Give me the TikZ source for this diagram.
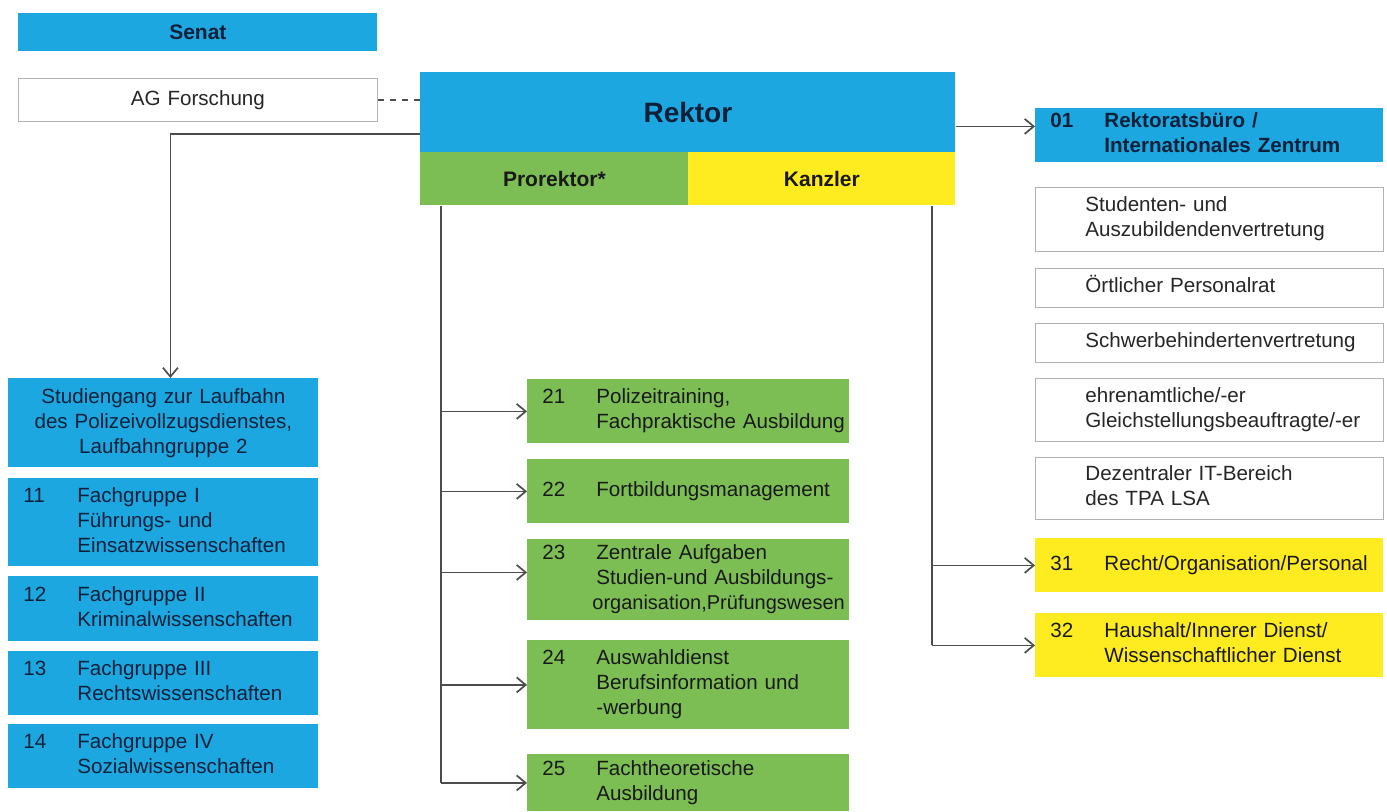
\documentclass[tikz,border=0pt]{standalone}
\usepackage{fontspec}
\setmainfont{Liberation Sans}
\usetikzlibrary{calc,arrows.meta}
\setlength{\parindent}{0pt}

\definecolor{hsblue}{RGB}{28,167,224}
\definecolor{hsgreen}{RGB}{125,190,84}
\definecolor{hsyellow}{RGB}{255,236,32}
\definecolor{hsnavy}{RGB}{12,32,58}

% number column, then the lines of the entry
\newcommand{\nr}[2]{\makebox[27pt][l]{#1}\begin{tabular}[t]{@{}l@{}}#2\end{tabular}}
\newcommand{\wt}[1]{\hspace*{17.5pt}\begin{tabular}[t]{@{}l@{}}#1\end{tabular}}

\begin{document}
\begin{tikzpicture}[
x=0.5pt, y=-0.5pt,
font=\fontsize{10.3}{12.5}\selectfont,
box/.style={rectangle, anchor=north west, inner xsep=7.5pt, inner ysep=0pt, align=left},
lblue/.style={box, fill=hsblue, text=hsnavy, minimum width=155pt, text width=140pt},
gbox/.style={box, fill=hsgreen, text=black!90, minimum width=161pt, text width=146pt},
rwhite/.style={box, draw=black!30, fill=white, text=black!85, minimum width=174pt, text width=159pt},
ryellow/.style={box, fill=hsyellow, text=black!90, minimum width=174pt, text width=159pt},
head/.style={box, align=center, font=\fontsize{10.5}{12.5}\selectfont\bfseries},
conn/.style={draw=black!70, line width=0.85pt},
arr/.style={conn, -{Straight Barb[length=4.5pt, width=7.5pt]}},
]
\useasboundingbox (0,0) rectangle (1387,811);

% top
\node[head, fill=hsblue, text=hsnavy, minimum width=179.5pt, text width=164.5pt, minimum height=19pt] (senat) at (18,13) {Senat};
\node[box, draw=black!30, text=black!85, align=center, minimum width=179.5pt, text width=164.5pt, minimum height=21.5pt] (ag) at (18,78) {AG Forschung};

\node[head, fill=hsblue, text=hsnavy, minimum width=267.5pt, text width=252.5pt, minimum height=40pt,
  font=\fontsize{14}{16}\selectfont\bfseries] (rektor) at (420,72) {Rektor};
\node[head, fill=hsgreen, text=black!90, minimum width=134pt, text width=119pt, minimum height=26.5pt] (pro) at (420,152) {Prorektor*};
\node[head, fill=hsyellow, text=black!90, minimum width=133.5pt, text width=118.5pt, minimum height=26.5pt] (kanz) at (688,152) {Kanzler};

% left column
\node[lblue, align=center, minimum height=44.5pt] (stud) at (8,378) {Studiengang zur Laufbahn\\des Polizeivollzugsdienstes,\\Laufbahngruppe 2};
\node[lblue, minimum height=44pt] (f11) at (8,478) {\nr{11}{Fachgruppe I\\Führungs- und\\Einsatzwissenschaften}};
\node[lblue, minimum height=32.5pt] (f12) at (8,576) {\nr{12}{Fachgruppe II\\Kriminalwissenschaften}};
\node[lblue, minimum height=32pt] (f13) at (8,651) {\nr{13}{Fachgruppe III\\Rechtswissenschaften}};
\node[lblue, minimum height=32pt] (f14) at (8,724) {\nr{14}{Fachgruppe IV\\Sozialwissenschaften}};

% middle column
\node[gbox, minimum height=32pt] (g21) at (527,379) {\nr{21}{Polizeitraining,\\Fachpraktische Ausbildung}};
\node[gbox, minimum height=32pt] (g22) at (527,459) {\nr{22}{Fortbildungsmanagement}};
\node[gbox, minimum height=40.5pt] (g23) at (527,539) {\nr{23}{Zentrale Aufgaben\\Studien-und Ausbildungs-\\\hspace*{-2pt}{\fontsize{10}{12.5}\selectfont organisation,Prüfungswesen}}};
\node[gbox, minimum height=44.5pt] (g24) at (527,640) {\nr{24}{Auswahldienst\\Berufsinformation und\\-werbung}};
\node[gbox, minimum height=28.5pt] (g25) at (527,754) {\nr{25}{Fachtheoretische\\Ausbildung}};

% right column
\node[box, fill=hsblue, text=hsnavy, minimum width=174pt, text width=159pt, minimum height=27pt,
  font=\fontsize{10.3}{12.5}\selectfont\bfseries] (b01) at (1035,108) {\nr{01}{Rektoratsbüro /\\Internationales Zentrum}};
\node[rwhite, minimum height=32pt] (w1) at (1035,187) {\wt{Studenten- und\\Auszubildendenvertretung}};
\node[rwhite, minimum height=19.5pt] (w2) at (1035,268) {\wt{Örtlicher Personalrat}};
\node[rwhite, minimum height=19.5pt] (w3) at (1035,323) {\wt{Schwerbehindertenvertretung}};
\node[rwhite, minimum height=31.5pt] (w4) at (1035,378) {\wt{ehrenamtliche/-er\\Gleichstellungsbeauftragte/-er}};
\node[rwhite, minimum height=31pt] (w5) at (1035,457) {\wt{Dezentraler IT-Bereich\\des TPA LSA}};
\node[ryellow, minimum height=27pt] (y31) at (1035,538) {\nr{31}{Recht/Organisation/Personal}};
\node[ryellow, minimum height=32pt] (y32) at (1035,613) {\nr{32}{Haushalt/Innerer Dienst/\\Wissenschaftlicher Dienst}};

% connectors
\draw[conn, dashed] (ag.east) -- (ag.east -| rektor.west);
\draw[arr] ([yshift=9.5pt]rektor.south west) -| ([xshift=3.5pt]stud.north);
\draw[arr] ([yshift=-7pt]rektor.east) -- ([yshift=-7pt]rektor.east -| b01.west);

\coordinate (pv) at ([xshift=10.5pt]pro.south west);
\draw[conn] (pv) -- (pv |- g25.west);
\foreach \n in {g21,g22,g24,g25}
  \draw[arr] (pv |- \n.west) -- (\n.west);
\draw[arr] ($(pv |- g23.west)+(0,-7.5)$) -- ($(g23.west)+(0,-7.5)$);

\coordinate (kv) at ([xshift=-12pt]kanz.south east);
\draw[conn] (kv) -- (kv |- y32.west);
\foreach \n in {y31,y32}
  \draw[arr] (kv |- \n.west) -- (\n.west);
\end{tikzpicture}
\end{document}
